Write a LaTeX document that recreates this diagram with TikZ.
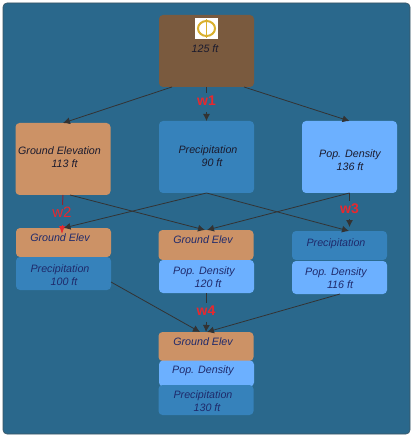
\documentclass[tikz,border=0pt]{standalone}
\usepackage{fontspec}
\setmainfont{Liberation Sans}
\usetikzlibrary{arrows.meta}
\definecolor{panelblue}{HTML}{2A688C}
\definecolor{panelline}{HTML}{3C5564}
\definecolor{brownbox}{HTML}{7A5A3E}
\definecolor{groundc}{HTML}{CC9266}
\definecolor{precipc}{HTML}{3682BB}
\definecolor{popc}{HTML}{6CB0FF}
\definecolor{linkc}{HTML}{333333}
\definecolor{navytxt}{HTML}{1F2A6B}
\definecolor{darktxt}{HTML}{1B1B2E}
\definecolor{redw}{HTML}{E8282E}
\definecolor{darkred}{HTML}{8E2430}
\definecolor{goldc}{HTML}{D9B02E}
\tikzset{
  box/.style={rounded corners=4pt,inner sep=0pt,outer sep=0pt,minimum width=95pt},
  large/.style={box,minimum height=72pt},
  ground/.style={fill=groundc},
  precip/.style={fill=precipc},
  pop/.style={fill=popc},
  txt/.style={font=\fontsize{10.7}{13}\selectfont\itshape,align=center,inner sep=0pt,text=navytxt},
  dtxt/.style={txt,text=darktxt},
  link/.style={draw=linkc,line width=0.8pt,-{Latex[length=7pt,width=7pt]}},
  plainlink/.style={draw=linkc,line width=0.8pt},
  wlabel/.style={font=\fontsize{14}{14}\selectfont\bfseries,text=redw,inner sep=0pt},
  wthin/.style={font=\fontsize{15}{15}\selectfont,text=redw,inner sep=0pt}
}
\begin{document}
\begin{tikzpicture}[x=1pt,y=-1pt]
\useasboundingbox (0,0) rectangle (411,435);
\fill[white] (0,0) rectangle (411,435);
\draw[panelline,fill=panelblue,line width=0.6pt,rounded corners=4pt] (3,3) rectangle (410,434);

% boxes
\node[large,fill=brownbox] (top) at (206.5,51) {};
\node[large,ground] (ge1) at (63,159) {};
\node[large,precip] (pr1) at (206.5,157) {};
\node[large,pop] (po1) at (349.5,157) {};

\node[box,ground,minimum height=29pt] (lg) at (63.5,242.5) {};
\node[box,precip,minimum height=33pt] (lp) at (63.5,273.5) {};

\node[box,ground,minimum height=30pt] (mg) at (206,245) {};
\node[box,pop,minimum height=33pt] (mp) at (206.5,276.5) {};

\node[box,precip,minimum height=29pt] (rp) at (339.5,245.5) {};
\node[box,pop,minimum height=33pt] (rd) at (339.5,277.5) {};

\node[box,ground,minimum height=29pt] (bg) at (206,346.5) {};
\node[box,pop,minimum height=26pt] (bp) at (206.5,373.5) {};
\node[box,precip,minimum height=30pt] (br) at (206,400) {};

% phi picture
\node[fill=white,minimum width=23pt,minimum height=21pt,inner sep=0pt,outer sep=0pt] (phi) at (206.5,28.5) {};
\draw[goldc,line width=2pt] (phi.center) ellipse [x radius=8.5pt,y radius=7.5pt];
\draw[goldc,line width=1.3pt] ([yshift=-9.5pt]phi.center) -- ([yshift=9.5pt]phi.center);

% connectors
\draw[link] ([xshift=-34.5pt]top.south) -- (ge1.north);
\draw[plainlink] (top.south) -- ([yshift=-6pt]top.south);
\draw[link] ([yshift=-25pt]top.south) -- (pr1.north);
\draw[link] ([xshift=37.5pt]top.south) -- (po1.north);

\draw[link] ([xshift=7pt]ge1.south) -- ([xshift=-1pt]mg.north);
\draw[link] (pr1.south) -- (lg.north);
\draw[link] (pr1.south) -- ([xshift=9.5pt]rp.north);
\draw[link] (po1.south) -- ([xshift=1pt]mg.north);
\draw[plainlink] (po1.south) -- ([yshift=-8pt]po1.south);
\draw[link] ([yshift=-26pt]po1.south) -- ([yshift=-34pt]po1.south);

\draw[link] (lp.east) ++(0,8.5) -- ([xshift=-6pt]bg.north);
\draw[plainlink] (mp.south) -- ([yshift=-10pt]mp.south);
\draw[link] ([yshift=-29pt]mp.south) -- (bg.north);
\draw[link] ([xshift=0.5pt]rd.south) -- ([xshift=1pt]bg.north);

\draw[darkred,line width=1pt] (ge1.south) -- ([xshift=-0.5pt,yshift=-10pt]ge1.south);
\draw[redw,line width=0.8pt,-{Latex[length=8pt,width=6pt]}] ([xshift=-1pt,yshift=-30pt]ge1.south) -- ([xshift=-1pt,yshift=-39pt]ge1.south);

% edge labels
\node[wlabel] (w1) at (206.5,101) {w1};
\node[wthin] (w2) at (62,212) {w2};
\node[wlabel] (w3) at (349.5,208.5) {w3};
\node[wlabel] (w4) at (206,310.5) {w4};

% texts
\node[dtxt] (t0) at (205,49) {125 ft};
\node[dtxt] (t1) at (59.5,157.5) {Ground Elevation\\\hspace*{10pt}113 ft};
\node[dtxt] (t2) at (208,156.5) {Precipitation\\\hspace*{8pt}90 ft};
\node[dtxt] (t3) at (350,160) {Pop. Density\\136 ft};
\node[txt] (t4) at (60,237.5) {Ground Elev};
\node[txt] (t5) at (60,275.5) {Precipitation\\\hspace*{8pt}100 ft};
\node[txt] (t6) at (203,240) {Ground Elev};
\node[txt] (t7) at (204,277.5) {Pop. Density\\\hspace*{8pt}120 ft};
\node[txt] (t8) at (336,244) {Precipitation};
\node[txt] (t9) at (336,278.5) {Pop. Density\\\hspace*{8pt}116 ft};
\node[txt] (t10) at (203,342) {Ground Elev};
\node[txt] (t11) at (203,371) {Pop. Density};
\node[txt] (t12) at (203,401.5) {Precipitation\\\hspace*{8pt}130 ft};
\end{tikzpicture}
\end{document}
